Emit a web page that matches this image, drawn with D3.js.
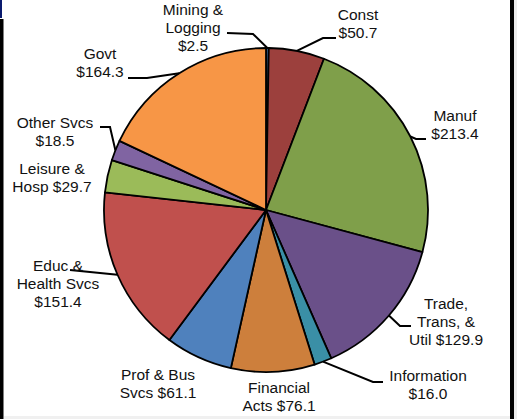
<!DOCTYPE html>
<html>
<head>
<meta charset="utf-8">
<script src="https://cdn.jsdelivr.net/npm/d3@7"></script>
<style>
	body { margin: 0; background: #fff; }
	svg { display: block; }
	.pie-label { font-family: "Liberation Sans", Arial, sans-serif; font-size: 15.5px; fill: #111; }
</style>
</head>
<body>
<svg id="chart" width="517" height="419"></svg>
<script>
// sectors in clockwise order from 12 o'clock
const sectors = ["Mining & Logging", "Const", "Manuf", "Trade, Trans, & Util", "Information",
	"Financial Acts", "Prof & Bus Svcs", "Educ & Health Svcs", "Leisure & Hosp", "Other Svcs", "Govt"];
const values = [2.5, 50.7, 213.4, 129.9, 16.0, 76.1, 61.1, 151.4, 29.7, 18.5, 164.3];
// label text lines; the value gets appended to the last line
const labelLines = [
	["Mining &", "Logging", ""],
	["Const", ""],
	["Manuf", ""],
	["Trade,", "Trans, &", "Util"],
	["Information", ""],
	["Financial", "Acts"],
	["Prof & Bus", "Svcs"],
	["Educ &", "Health Svcs", ""],
	["Leisure &", "Hosp"],
	["Other Svcs", ""],
	["Govt", ""]
];
const colors = ["#3f6fa8", "#9c403d", "#7f9f4a", "#6a5089", "#3a8fa6", "#cd7f3c",
	"#4f81bd", "#c0504d", "#9bbb59", "#8064a2", "#f79646"];

// label placement (center of first line) and leader elbows
const labelPos = [[193, 10], [358, 15], [455, 116], [446, 304], [428, 376], [279, 388],
	[158, 375], [58, 266], [52, 169], [55, 123], [100, 54]];
const leaders = [
	[[253, 34], [227, 33]],
	[[323, 38], [336, 38]],
	[[416, 139], [426, 139]],
	[[400, 326], [411, 326]],
	[[373, 382], [383, 382]],
	null,
	null,
	[[70, 270]],
	null,
	[[110, 127], [100, 127]],
	[[147, 78], [128, 78]]
];

class PieChart {
	constructor(selector) {
		this.svg = d3.select(selector);
		this.cx = 266;
		this.cy = 210;
		this.radius = 162;
		this.lineHeight = 18;
	}

	drawFrame() {
		let svg = this.svg;
		svg.append("rect").attr("x", 0).attr("y", 0).attr("width", 517).attr("height", 419).attr("fill", "#fff");
		svg.append("rect").attr("x", 0).attr("y", 0).attr("width", 2).attr("height", 18).attr("fill", "#0a1a6e");
		svg.append("rect").attr("x", 0).attr("y", 19).attr("width", 3.5).attr("height", 400).attr("fill", "#000");
		svg.append("rect").attr("x", 510).attr("y", 0).attr("width", 4).attr("height", 419).attr("fill", "#000");
		svg.append("rect").attr("x", 514).attr("y", 0).attr("width", 3).attr("height", 419).attr("fill", "#ececec");
		svg.append("rect").attr("x", 4).attr("y", 416).attr("width", 506).attr("height", 3).attr("fill", "#f0f0f0");
	}

	createPie() {
		let that = this;
		let pie = d3.pie().sort(null).value(d => d);
		let arcs = pie(values);

		let arc = d3.arc()
			.innerRadius(0)
			.outerRadius(this.radius);

		let g = this.svg.append("g")
			.attr("transform", "translate(" + this.cx + "," + this.cy + ")");

		g.selectAll("path.slice")
			.data(arcs)
			.enter()
			.append("path")
			.attr("class", "slice")
			.attr("d", arc)
			.attr("fill", (d, i) => colors[i])
			.attr("stroke", "#000")
			.attr("stroke-width", 1.8)
			.attr("stroke-linejoin", "round");

		// leader lines start on the rim at the slice's middle angle
		let line = d3.line();
		arcs.forEach((d, i) => {
			if (!leaders[i]) return;
			let a = (d.startAngle + d.endAngle) / 2;
			let start = [that.cx + that.radius * Math.sin(a), that.cy - that.radius * Math.cos(a)];
			that.svg.append("path")
				.attr("d", line([start].concat(leaders[i])))
				.attr("fill", "none")
				.attr("stroke", "#000")
				.attr("stroke-width", 2);
		});

		let fmt = d3.format(".1f");
		let labels = this.svg.selectAll("text.pie-label")
			.data(arcs)
			.enter()
			.append("text")
			.attr("class", "pie-label")
			.attr("text-anchor", "middle");

		labels.each(function(d, i) {
			let lines = labelLines[i].slice();
			let last = lines.length - 1;
			lines[last] = (lines[last] + " $" + fmt(values[i])).trim();
			d3.select(this).selectAll("tspan")
				.data(lines)
				.enter()
				.append("tspan")
				.attr("x", labelPos[i][0])
				.attr("y", (t, k) => labelPos[i][1] + k * that.lineHeight)
				.attr("dy", "0.35em")
				.text(t => t);
		});
	}
}

let chart = new PieChart("#chart");
chart.drawFrame();
chart.createPie();
</script>
</body>
</html>
